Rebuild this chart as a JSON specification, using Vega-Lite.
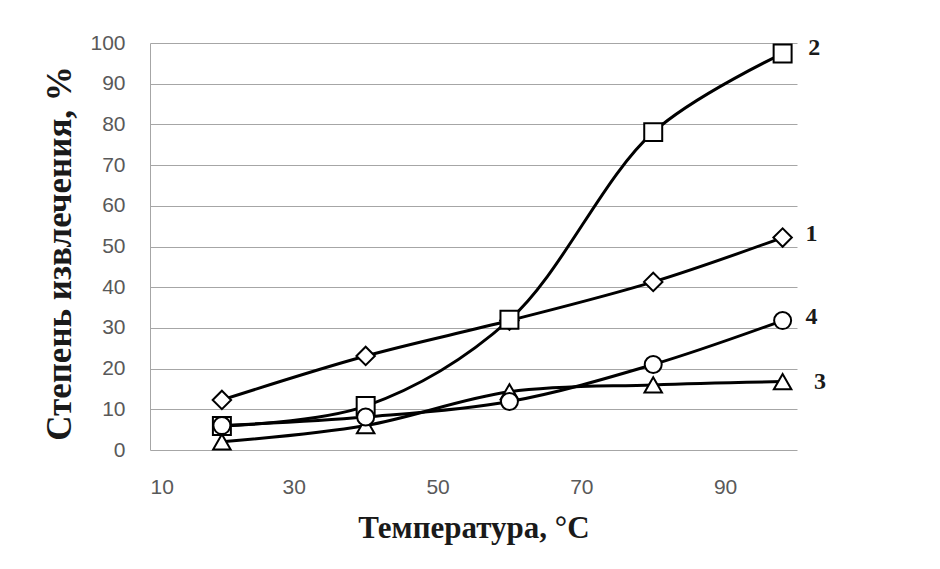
{
  "$schema": "https://vega.github.io/schema/vega-lite/v6.json",
  "autosize": "none",
  "width": 647,
  "height": 407,
  "padding": {"left": 150, "top": 43, "right": 143, "bottom": 119},
  "background": "white",
  "config": {"view": {"stroke": null}},
  "datasets": {
    "pts": [
      {"series": "1", "t": 20, "v": 12.3},
      {"series": "1", "t": 40, "v": 23.1},
      {"series": "1", "t": 60, "v": 31.8},
      {"series": "1", "t": 80, "v": 41.3},
      {"series": "1", "t": 98, "v": 52.2},
      {"series": "2", "t": 20, "v": 5.9},
      {"series": "2", "t": 40, "v": 10.8},
      {"series": "2", "t": 60, "v": 32},
      {"series": "2", "t": 80, "v": 78.1},
      {"series": "2", "t": 98, "v": 97.4},
      {"series": "3", "t": 20, "v": 2},
      {"series": "3", "t": 40, "v": 6},
      {"series": "3", "t": 60, "v": 14.3},
      {"series": "3", "t": 80, "v": 16},
      {"series": "3", "t": 98, "v": 16.8},
      {"series": "4", "t": 20, "v": 6},
      {"series": "4", "t": 40, "v": 8.1},
      {"series": "4", "t": 60, "v": 11.9},
      {"series": "4", "t": 80, "v": 21},
      {"series": "4", "t": 98, "v": 31.8}
    ],
    "labels": [
      {"label": "2", "t": 102.4, "v": 98.8},
      {"label": "1", "t": 102, "v": 53},
      {"label": "4", "t": 102, "v": 32.7},
      {"label": "3", "t": 103.2, "v": 16.7}
    ]
  },
  "layer": [
    {
      "data": {"name": "pts"},
      "mark": {"type": "line", "interpolate": "catmull-rom", "color": "black", "strokeWidth": 3},
      "encoding": {
        "x": {
          "field": "t", "type": "quantitative",
          "scale": {"domain": [10, 100], "nice": false, "zero": false},
          "axis": {
            "values": [10, 30, 50, 70, 90],
            "grid": false, "domain": false, "ticks": false,
            "labelPadding": 26, "labelFont": "Liberation Sans", "labelFontSize": 21,
            "labelColor": "#595959",
            "title": "Температура,  °C",
            "titleFont": "Liberation Serif", "titleFontSize": 31, "titleFontWeight": "bold",
            "titleColor": "#1a1a1a", "titleBaseline": "alphabetic",
            "titleY": 87
          }
        },
        "y": {
          "field": "v", "type": "quantitative",
          "scale": {"domain": [0, 100], "nice": false},
          "axis": {
            "values": [0, 10, 20, 30, 40, 50, 60, 70, 80, 90, 100],
            "grid": true, "gridColor": "#a6a6a6", "gridWidth": 1,
            "domain": true, "domainColor": "#a6a6a6", "domainWidth": 1,
            "ticks": false,
            "labelPadding": 25, "labelFont": "Liberation Sans", "labelFontSize": 21,
            "labelColor": "#595959",
            "title": "Степень извлечения, %",
            "titleFont": "Liberation Serif", "titleFontSize": 35, "titleFontWeight": "bold",
            "titleColor": "#1a1a1a", "titleBaseline": "alphabetic",
            "titleX": -80, "titleY": 210
          }
        },
        "detail": {"field": "series"}
      }
    },
    {
      "data": {"name": "pts"},
      "mark": {"type": "point", "filled": true, "fill": "white", "stroke": "black", "strokeWidth": 2, "opacity": 1},
      "encoding": {
        "x": {"field": "t", "type": "quantitative"},
        "y": {"field": "v", "type": "quantitative"},
        "shape": {
          "field": "series", "type": "nominal",
          "scale": {"domain": ["1", "2", "3", "4"], "range": ["diamond", "square", "triangle-up", "circle"]},
          "legend": null
        },
        "size": {
          "field": "series", "type": "nominal",
          "scale": {"domain": ["1", "2", "3", "4"], "range": [340, 289, 320, 280]},
          "legend": null
        }
      }
    },
    {
      "data": {"name": "labels"},
      "mark": {"type": "text", "font": "Liberation Serif", "fontSize": 24, "fontWeight": "bold", "color": "#1a1a1a", "baseline": "middle", "align": "center"},
      "encoding": {
        "x": {"field": "t", "type": "quantitative"},
        "y": {"field": "v", "type": "quantitative"},
        "text": {"field": "label"}
      }
    }
  ]
}
